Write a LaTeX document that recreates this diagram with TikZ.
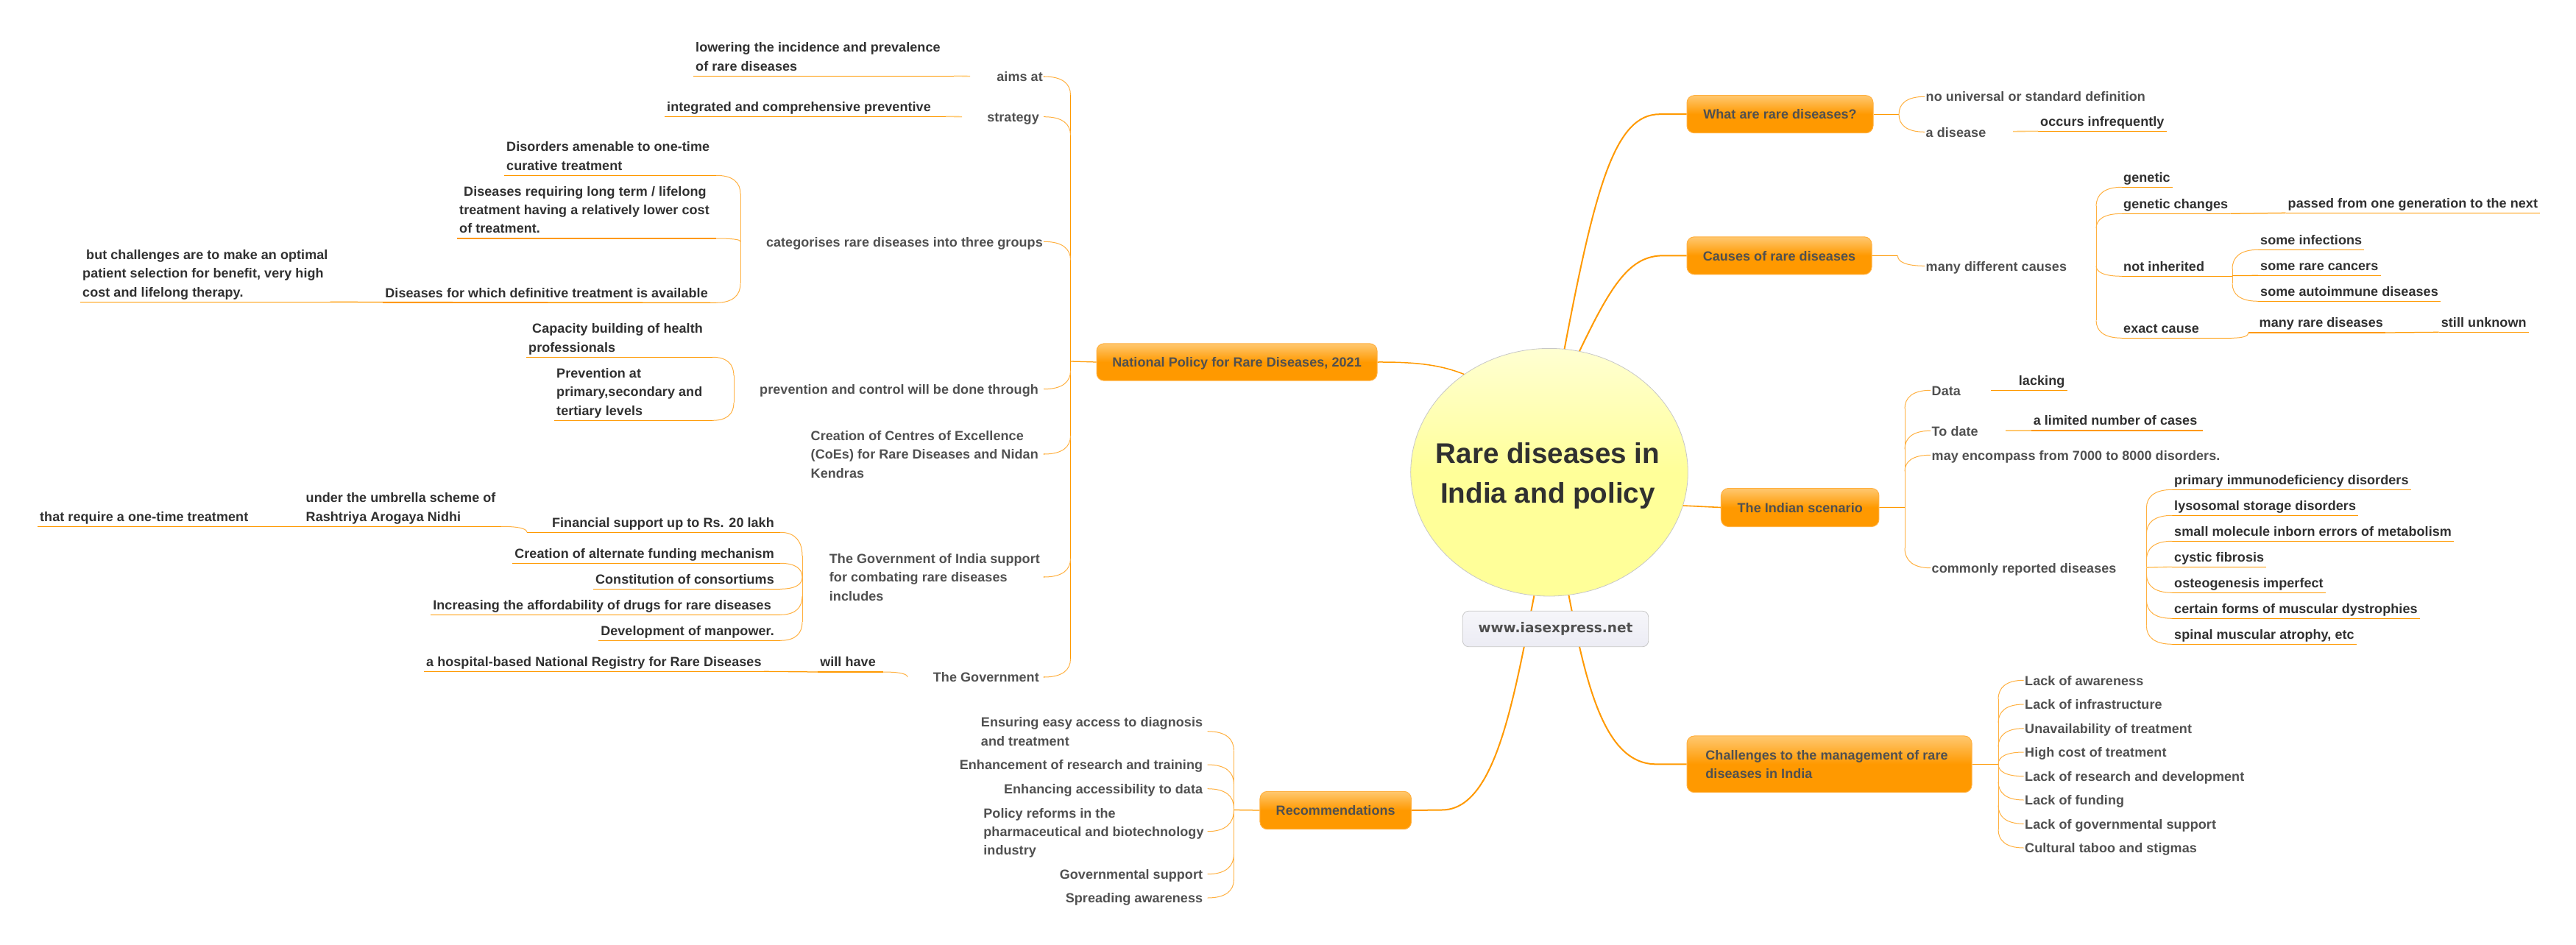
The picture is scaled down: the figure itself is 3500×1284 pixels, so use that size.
\documentclass[tikz,border=0pt]{standalone}
\usepackage{fontspec}
\setmainfont{Liberation Sans}
\newfontfamily\lblfont[LetterSpace=0.4]{Liberation Sans}
\newfontfamily\urlfont{DejaVu Sans}
\usetikzlibrary{calc,shapes.geometric}
\definecolor{oran}{HTML}{FF9900}
\definecolor{oranl}{HTML}{FFC870}
\definecolor{oranm}{HTML}{FFB040}
\definecolor{ylo}{HTML}{FFFF99}
\definecolor{ylol}{HTML}{FFFFD2}
\definecolor{urlb}{HTML}{ECECF4}
\definecolor{urlt}{HTML}{F6F6FA}
\definecolor{txtgray}{HTML}{505050}
\definecolor{txtdark}{HTML}{303030}
\pgfdeclareverticalshading{brsh}{100bp}{color(0bp)=(oran);color(50bp)=(oran);color(75bp)=(oranl);color(100bp)=(oranl)}
\pgfdeclareverticalshading{rootsh}{100bp}{color(0bp)=(ylo);color(50bp)=(ylo);color(75bp)=(ylol);color(100bp)=(ylol)}
\pgfdeclareverticalshading{urlsh}{100bp}{color(0bp)=(urlb);color(25bp)=(urlb);color(75bp)=(urlt);color(100bp)=(urlt)}
\tikzset{
  lbl/.style={font=\lblfont\bfseries\fontsize{18}{25.3}\selectfont,align=left,inner ysep=0pt},
  graytxt/.style={lbl,text=txtgray,text depth=3.6pt},
  leaf/.style={lbl,text=txtdark,text depth=7pt,inner xsep=3pt},
  branch/.style={lbl,text=txtgray,rounded corners=10pt,shade,shading=brsh,draw=oranm,line width=1pt,text depth=3.6pt,inner sep=0pt},
  ul/.style={draw=oran,line width=1.25pt},
  con/.style={draw=oranm,line width=1pt},
  trunk/.style={draw=oranm,line width=1pt},
  fadeln/.style={draw=oranl,line width=1.6pt},
  main/.style={draw=oran,line width=2pt},
}
% text with no underline: right end on the tree's side
\newcommand{\gleft}[5][1pt]{\node[graytxt,anchor=east,inner xsep=#1] (#2) at (#3,#4) {\rule{0pt}{17pt}#5};}
\newcommand{\gright}[4]{\node[graytxt,anchor=west,inner xsep=1.5pt] (#1) at (#2,#3) {\rule{0pt}{17pt}#4};}
% underlined text
\newcommand{\leafn}[5]{\node[leaf,anchor=#2] (#1) at (#3,#4) {#5}; \draw[ul] (#1.south west) -- (#1.south east);}
\newcommand{\elbow}[4]{\draw[ul] (#1) -- ($(#2 |- #1)+(#3,0)$); \draw[con] ($(#2 |- #1)+(#3,0)$) .. controls +({-0.7*(#3)},0) and +(0,{-0.6*(#4)}) .. ($(#2 |- #1)+(0,#4)$);}
\begin{document}
\begin{tikzpicture}[x=1pt,y=-1pt]
\useasboundingbox (0,0) rectangle (3500,1284);

% ---------- central topic
\node[ellipse,shade,shading=rootsh,draw=black!22,line width=0.8pt,minimum width=376.6pt,minimum height=336.6pt,inner sep=0pt] (root) at (2105,641.7) {};
\node[align=center,text=txtdark,font=\bfseries\fontsize{38.6}{54}\selectfont,text depth=8pt,inner sep=0pt] (roottxt) at (2103,641.7)
  {\rule{0pt}{38pt}Rare diseases in\\India and policy};

% ---------- main branches
\node[branch,minimum width=253pt,minimum height=51pt] (what) at (2418.5,155.2) {\rule{0pt}{17pt}What are rare diseases?};
\node[branch,minimum width=251pt,minimum height=51pt] (cause) at (2417.5,347.3) {\rule{0pt}{17pt}Causes of rare diseases};
\node[branch,minimum width=214.5pt,minimum height=52pt] (indian) at (2445.7,689.5) {\rule{0pt}{17pt}The Indian scenario};
\node[branch,minimum width=387pt,minimum height=76.7pt] (chall) at (2485.5,1038.3) {\rule{0pt}{17pt}Challenges to the management of rare\hspace*{7pt}\\diseases in India};
\node[branch,minimum width=205.5pt,minimum height=51.4pt] (recom) at (1814.7,1101) {\rule{0pt}{17pt}Recommendations};
\node[branch,minimum width=381pt,minimum height=50.3pt] (natl) at (1680.5,492) {\rule{0pt}{17pt}National Policy for Rare Diseases, 2021};

\coordinate (mw) at (2255,155.2);
\coordinate (mc) at (2260,347.3);
\coordinate (mh) at (2250,1038.3);
\coordinate (mr) at (1959,1100.5);
\draw[main] (root.83.2) .. controls (2168,250) and (2195,155.2) .. (mw) -- (what.west);
\draw[main] (root.76.5) .. controls (2190,385) and (2215,347.3) .. (mc) -- (cause.west);
\draw[main,line width=1.6pt] (root.-14.85) -- (indian.west);
\draw[main] (root.-81) .. controls (2155,930) and (2180,1038.3) .. (mh) -- (chall.west);
\draw[main] (root.-97.8) .. controls (2055,960) and (2030,1100.5) .. (mr) -- (recom.east);
\draw[main,line width=1.5pt] (natl.east) .. controls (1930,491.7) and (1960,497) .. (root.131.7);

\node[rounded corners=8pt,shade,shading=urlsh,draw=black!22,line width=0.8pt,minimum width=252.4pt,minimum height=48.4pt,inner sep=0pt,
  text=txtgray,font=\urlfont\bfseries\fontsize{18.5}{22}\selectfont] (url) at (2113.5,854.5) {www.iasexpress.net};

% ---------- National Policy tree
\coordinate (Tn) at (1454.5,491);
\coordinate (TnA) at (1454.5,129);
\coordinate (TnB) at (1454.5,895);
\draw[ul] (TnA) -- (TnB);
\draw[ul] (natl.west) -- (Tn);
\gleft{aims}{1418}{104}{aims at}
\gleft[6pt]{strat}{1418}{158.7}{strategy}
\gleft{categ}{1418}{328.3}{categorises rare diseases into three groups}
\gleft[7pt]{prevc}{1418}{528.7}{prevention and control will be done through}
\gleft[7pt]{coes}{1418}{617}{Creation of Centres of Excellence\\(CoEs) for Rare Diseases and Nidan\\Kendras}
\gleft[5pt]{goi}{1418}{784}{The Government of India support\\for combating rare diseases\\includes}
\gleft[6pt]{govt}{1418}{920}{The Government}
\elbow{aims.east}{Tn}{-36}{25}
\elbow{strat.east}{Tn}{-36}{25}
\elbow{categ.east}{Tn}{-36}{25}
\elbow{prevc.east}{Tn}{-36}{-25}
\elbow{coes.east}{Tn}{-36}{-25}
\elbow{goi.east}{Tn}{-36}{-25}
\elbow{govt.east}{Tn}{-36}{-25}

\leafn{low}{south west}{942}{103.3}{lowering the incidence and prevalence\\of rare diseases}
\leafn{intg}{south west}{903}{158.3}{integrated and comprehensive preventive}
\coordinate (lowE) at (1318,103.6);
\coordinate (lowM) at (1296,103.3);
\coordinate (intE) at (1307,158.6);
\coordinate (intM) at (1285,158.3);
\draw[ul] (low.south east) -- (lowM);
\draw[fadeln] (lowM) -- (lowE);
\draw[ul] (intg.south east) -- (intM);
\draw[fadeln] (intM) -- (intE);

% categorises
\coordinate (Tcat) at (1006,328);
\coordinate (TcatA) at (1006,263);
\coordinate (TcatB) at (1006,385);
\draw[trunk] (TcatA) -- (TcatB);
\leafn{dis1}{south west}{685}{238.3}{Disorders amenable to one-time\\curative treatment}
\leafn{dis2}{south west}{621}{324}{\hspace*{6pt}Diseases requiring long term / lifelong\\treatment having a relatively lower cost\\of treatment.}
\leafn{dis3}{south east}{965}{411.3}{Diseases for which definitive treatment is available}
\leafn{but}{south west}{109}{410.3}{\hspace*{5pt}but challenges are to make an optimal\\patient selection for benefit, very high\\cost and lifelong therapy.}
\draw[ul] (but.south east) -- (dis3.south east);
\elbow{dis1.south east}{Tcat}{-33}{25}
\elbow{dis2.south east}{Tcat}{-33}{4}
\elbow{dis3.south east}{Tcat}{-33}{-26}

% prevention
\coordinate (Tprv) at (997,528);
\coordinate (TprvA) at (997,510);
\coordinate (TprvB) at (997,547);
\draw[trunk] (TprvA) -- (TprvB);
\leafn{cap}{south west}{715}{485.3}{\hspace*{5pt}Capacity building of health\\professionals}
\leafn{prev}{south west}{753}{571.3}{Prevention at\\primary,secondary and\\tertiary levels}
\elbow{cap.south east}{Tprv}{-29}{25}
\elbow{prev.south east}{Tprv}{-29}{-24}

% Government of India
\coordinate (Tgoi) at (1090,784);
\coordinate (TgoiA) at (1090,755);
\coordinate (TgoiB) at (1090,845);
\draw[trunk] (TgoiA) -- (TgoiB);
\leafn{fin}{south east}{1055}{723.3}{Financial support up to Rs. 20 lakh}
\leafn{alt}{south east}{1055}{765.3}{Creation of alternate funding mechanism}
\leafn{cons}{south east}{1055}{800.3}{Constitution of consortiums}
\leafn{incr}{south east}{1051}{835.3}{Increasing the affordability of drugs for rare diseases}
\leafn{devm}{south east}{1055}{870.3}{Development of manpower.}
\elbow{fin.south east}{Tgoi}{-30}{32}
\elbow{alt.south east}{Tgoi}{-30}{19}
\elbow{cons.south east}{Tgoi}{-30}{-16}
\elbow{incr.south east}{Tgoi}{-30}{-25}
\elbow{devm.south east}{Tgoi}{-30}{-25}
\coordinate (finL) at (716,723.3);
\draw[ul] (finL) -- (fin.south west);
\leafn{umb}{south west}{412.5}{715.3}{under the umbrella scheme of\\Rashtriya Arogaya Nidhi}
\leafn{that}{south west}{51}{715.3}{that require a one-time treatment}
\draw[ul] (that.south east) -- (umb.south west);
\elbow{umb.south east}{finL}{-35}{8}

% The Government
\leafn{hosp}{south west}{576}{912.3}{a hospital-based National Registry for Rare Diseases}
\leafn{will}{south east}{1193}{913}{will have}
\draw[ul] (hosp.south east) -- (will.south west);
\coordinate (govL) at (1233,920);
\elbow{will.south east}{govL}{-33}{7}

% ---------- Recommendations tree
\coordinate (Tr) at (1676.4,1100.5);
\coordinate (TrA) at (1676.4,1020);
\coordinate (TrB) at (1676.4,1195);
\draw[trunk] (TrA) -- (TrB);
\draw[ul] (recom.west) -- (Tr);
\gleft[6.4pt]{rec1}{1640.7}{993.7}{Ensuring easy access to diagnosis\\and treatment}
\gleft[6.4pt]{rec2}{1640.7}{1039}{Enhancement of research and training}
\gleft[6.4pt]{rec3}{1640.7}{1071.7}{Enhancing accessibility to data}
\gleft[5pt]{rec4}{1640.7}{1129.7}{Policy reforms in the\\pharmaceutical and biotechnology\\industry}
\gleft[6.4pt]{rec5}{1640.7}{1187.7}{Governmental support}
\gleft[6.4pt]{rec6}{1640.7}{1220}{Spreading awareness}
\elbow{rec1.east}{Tr}{-35.7}{26}
\elbow{rec2.east}{Tr}{-35.7}{26}
\elbow{rec3.east}{Tr}{-35.7}{26}
\elbow{rec4.east}{Tr}{-35.7}{-29}
\elbow{rec5.east}{Tr}{-35.7}{-27}
\elbow{rec6.east}{Tr}{-35.7}{-25}

% ---------- What are rare diseases
\coordinate (Tw) at (2580,155.2);
\draw[ul,line width=1pt] (what.east) -- (Tw);
\gright{noun}{2615}{131.3}{no universal or standard definition}
\gright{adis}{2615}{179.3}{a disease}
\elbow{noun.west}{Tw}{35}{24}
\elbow{adis.west}{Tw}{35}{-24}
\leafn{occ}{south west}{2769}{178.3}{occurs infrequently}
\coordinate (occL) at (2735,178.6);
\draw[fadeln] (occL) -- (occ.south west);

% ---------- Causes
\coordinate (Tc) at (2578.4,347.5);
\draw[ul,line width=1pt] (cause.east) -- (Tc);
\gright{mdc}{2615}{361.3}{many different causes}
\elbow{mdc.west}{Tc}{36.6}{-13.8}
\coordinate (Tb) at (2848,361);
\coordinate (TbA) at (2848,280);
\coordinate (TbB) at (2848,435);
\draw[trunk] (TbA) -- (TbB);
\leafn{gen}{south west}{2882}{254.3}{genetic}
\leafn{gchg}{south west}{2882}{290.3}{genetic changes}
\leafn{noti}{south west}{2882}{375.3}{not inherited}
\leafn{exact}{south west}{2882}{459.3}{exact cause}
\elbow{gen.south west}{Tb}{35}{26}
\elbow{gchg.south west}{Tb}{35}{20}
\elbow{noti.south west}{Tb}{35}{-14}
\elbow{exact.south west}{Tb}{35}{-24}
\leafn{pass}{south west}{3105.5}{289.3}{passed from one generation to the next}
\draw[ul] (gchg.south east) -- (pass.south west);
\coordinate (Tb2) at (3033,374.6);
\coordinate (Tb2A) at (3033,365);
\coordinate (Tb2B) at (3033,385);
\draw[trunk] (Tb2A) -- (Tb2B);
\draw[ul] (noti.south east) -- (Tb2 |- noti.south east);
\leafn{infe}{south west}{3068}{339.3}{some infections}
\leafn{canc}{south west}{3068}{374.3}{some rare cancers}
\leafn{auto}{south west}{3068}{409.3}{some autoimmune diseases}
\elbow{infe.south west}{Tb2}{35}{26}
\draw[ul] (Tb2) -- (canc.south west);
\elbow{auto.south west}{Tb2}{35}{-24}
\leafn{many}{south west}{3066.5}{452}{many rare diseases}
\leafn{stil}{south west}{3313.6}{451.3}{still unknown}
\draw[ul] (many.south east) -- (stil.south west);
\coordinate (manyL) at (3055,452);
\draw[ul] (manyL) -- (many.south west);
\elbow{exact.south east}{manyL}{-23}{-7.3}

% ---------- Indian scenario
\coordinate (Ti) at (2588,689.4);
\coordinate (TiA) at (2588,555);
\coordinate (TiB) at (2588,745);
\draw[trunk] (TiA) -- (TiB);
\draw[ul,line width=1pt] (indian.east) -- (Ti);
\gright{data}{2623}{530.3}{Data}
\gright{tdat}{2623}{585.3}{To date}
\gright{encm}{2623}{618.3}{may encompass from 7000 to 8000 disorders.}
\gright{comm}{2623}{771.7}{commonly reported diseases}
\elbow{data.west}{Ti}{35}{25}
\elbow{tdat.west}{Ti}{35}{25}
\elbow{encm.west}{Ti}{35}{22}
\elbow{comm.west}{Ti}{35}{-27}
\leafn{lack}{south west}{2739.7}{530.3}{lacking}
\coordinate (lackL) at (2705,530.3);
\draw[ul] (lackL) -- (lack.south west);
\leafn{limt}{south west}{2759.6}{585}{a limited number of cases}
\coordinate (limtL) at (2725,585);
\coordinate (limtR) at (2993,585);
\draw[fadeln] (limtL) -- (limt.south west);
\draw[ul] (limt.south east) -- (limtR);
\coordinate (Td) at (2916.4,771);
\coordinate (TdA) at (2916.4,690);
\coordinate (TdB) at (2916.4,850);
\draw[trunk] (TdA) -- (TdB);
\leafn{d1}{south west}{2951}{665.3}{primary immunodeficiency disorders}
\leafn{d2}{south west}{2951}{700.3}{lysosomal storage disorders}
\leafn{d3}{south west}{2951}{735.3}{small molecule inborn errors of metabolism}
\leafn{d4}{south west}{2951}{770.3}{cystic fibrosis}
\leafn{d5}{south west}{2951}{805.3}{osteogenesis imperfect}
\leafn{d6}{south west}{2951}{840.3}{certain forms of muscular dystrophies}
\leafn{d7}{south west}{2951}{875.3}{spinal muscular atrophy, etc}
\elbow{d1.south west}{Td}{35}{25}
\elbow{d2.south west}{Td}{35}{25}
\elbow{d3.south west}{Td}{35}{25}
\draw[fadeln] (Td) -- (d4.south west);
\elbow{d5.south west}{Td}{35}{-25}
\elbow{d6.south west}{Td}{35}{-25}
\elbow{d7.south west}{Td}{35}{-25}

% ---------- Challenges
\coordinate (Th) at (2715,1038.3);
\coordinate (ThA) at (2715,950);
\coordinate (ThB) at (2715,1127);
\draw[trunk] (ThA) -- (ThB);
\draw[ul,line width=1pt] (chall.east) -- (Th);
\gright{h1}{2749.5}{924.3}{Lack of awareness}
\gright{h2}{2749.5}{957}{Lack of infrastructure}
\gright{h3}{2749.5}{989.7}{Unavailability of treatment}
\gright{h4}{2749.5}{1022}{High cost of treatment}
\gright{h5}{2749.5}{1054.7}{Lack of research and development}
\gright{h6}{2749.5}{1087}{Lack of funding}
\gright{h7}{2749.5}{1119.3}{Lack of governmental support}
\gright{h8}{2749.5}{1152}{Cultural taboo and stigmas}
\elbow{h1.west}{Th}{34.5}{25.7}
\elbow{h2.west}{Th}{34.5}{25}
\elbow{h3.west}{Th}{34.5}{25}
\elbow{h4.west}{Th}{34.5}{16.3}
\elbow{h5.west}{Th}{34.5}{-16.4}
\elbow{h6.west}{Th}{34.5}{-25}
\elbow{h7.west}{Th}{34.5}{-25}
\elbow{h8.west}{Th}{34.5}{-25}
\end{tikzpicture}
\end{document}
